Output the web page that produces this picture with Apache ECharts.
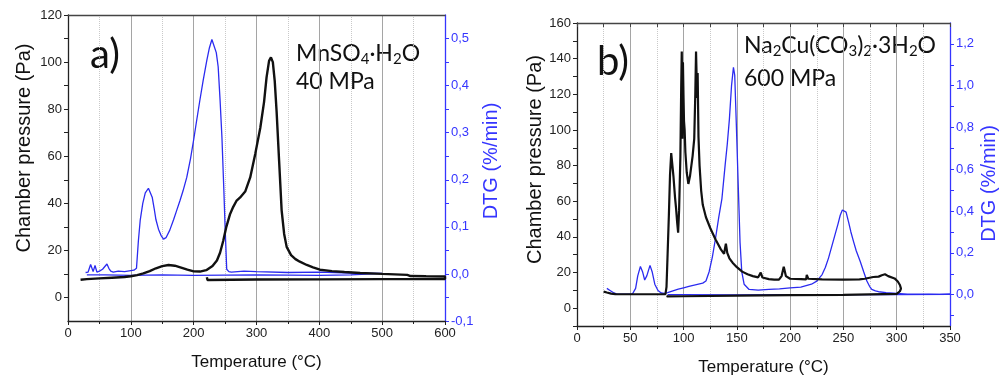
<!DOCTYPE html>
<html>
<head>
<meta charset="utf-8">
<script src="https://cdn.jsdelivr.net/npm/echarts@6/dist/echarts.min.js"></script>
<style>
html,body{margin:0;padding:0;background:#fff;}
#c{width:1000px;height:381px;}
</style>
</head>
<body>
<div id="c"></div>
<script>
// ---------- Panel a: MnSO4·H2O, 40 MPa ----------
const aPressT = [20,30,50,70,90,100,110,120,130,140,150,160,170,180,190,200,210,220,230,237,242,247,252,258,263,268,274,282,290,298,306,312,316,320,323,326,329,332,336,340,344,348,355,362,369,380,390,401,420,440,465,500,540,545,570,600,600,500,400,300,222,221];
const aPress  = [7.5,7.8,8.1,8.4,8.7,9.0,9.5,10.2,11.2,12.4,13.3,13.8,13.5,12.7,11.8,11.1,11.0,11.6,13.4,15.7,19,24,30,35.5,38.5,41,42.5,45,51,61,72,83,93.5,100.5,102,100,92,79,58,37,27,21.5,18,16.3,15.2,13.8,12.8,11.8,11.2,10.8,10.4,10.0,9.6,9.1,9.0,8.9,7.8,7.8,7.7,7.6,7.4,8.6];
const aDtgT = [28,32,36,40,43,46,50,55,58,62,65,68,72,80,90,100,105,109,112,115,119,123,128,131,134,137,140,144,148,152,156,162,168,173,178,183,189,195,200,205,210,215,221,225,229,232,236,239,242,245,248,250,252.6,256,260,280,300,350,400,450,500,500,450,400,300,200,150,100,60,30];
const aDtg  = [0.003,0.004,0.02,0.005,0.018,0.004,0.006,0.01,0.008,0.021,0.012,0.006,0.004,0.006,0.005,0.007,0.008,0.012,0.07,0.115,0.15,0.172,0.182,0.178,0.163,0.14,0.115,0.095,0.082,0.074,0.077,0.093,0.115,0.135,0.155,0.176,0.205,0.245,0.285,0.328,0.37,0.41,0.454,0.48,0.498,0.495,0.47,0.44,0.37,0.29,0.18,0.1,0.01,0.005,0.004,0.006,0.005,0.003,0.004,0.002,0.001,-0.003,-0.002,-0.003,-0.002,-0.003,-0.002,-0.003,-0.002,-0.002];
const aPressLabels = [0,20,40,60,80,100,120];
const aPressTicks  = [0,10,20,30,40,50,60,70,80,90,100,110,120];
const aDtgLabels = [-0.1,0,0.1,0.2,0.3,0.4,0.5];
const aDtgTicks  = [-0.1,-0.05,0,0.05,0.1,0.15,0.2,0.25,0.3,0.35,0.4,0.45,0.5];

// ---------- Panel b: Na2Cu(CO3)2·3H2O, 600 MPa ----------
const bPressT = [25,28,32,36,45,60,75,83,84,85,86.2,87.3,88.4,89.5,90.5,92,93,94,94.9,95.8,97,97.8,98.3,98.6,99.0,99.4,99.9,100.4,101,101.7,103,104.5,106,108.5,110,111,111.7,112.3,112.7,113.2,114,115,116.5,118,121,125,130,135,138,139.7,141,143,146,150,155,160,165,170,171.5,172.4,174,180,185,189.5,192,194,196,200,210,215,215.6,217,230,250,265,270,278,283,286,289,292,298,301,303,304,303,301.5,300,250,200,150,100,85,84];
const bPress  = [9.3,8.8,8.2,7.9,7.8,7.8,7.8,7.9,12,30,52,75,87,86,74,62,55.7,48,42.4,55,85,125,144,128,95,138,120,105,100,87.5,76,69.7,74,85.5,95,120,144,145,118,132,96,80,66,58,51,45,38.5,33,30.5,36.2,31,28,25.5,23,20.5,19,18,17.3,17.5,20,17.2,16.3,16.0,16.0,18,23.2,18,16.5,16.3,16.2,18.6,16.5,16.2,16.0,16.2,16.5,17.5,17.7,18.5,19,18,16.7,15,13,11,9.5,9.0,8.0,7.5,7.3,7.0,6.7,6.6,6.8];
const bDtgT = [28,31,34,37,45,52,55,57,59.5,61.5,63.5,65.5,68.5,70.5,73,76,79,82,85,90,95,100,105,110,115,118,121,124,127,130,133,136,139,141,143,145,146.8,148,149.6,151.5,153,154.6,156.8,161.5,170,180,190,200,210,220,225,230,233,236,239,242,245,247,249,250.8,252.5,254.8,257,259.5,262,265.7,269,272,274.5,276.6,280,283,290,300,310,320,330,340,350,300,250,200,150,100,85];
const bDtg  = [0.03,0.02,0.01,0.004,0.003,0.003,0.03,0.09,0.135,0.11,0.07,0.09,0.14,0.11,0.05,0.02,0.008,0.006,0.01,0.018,0.026,0.033,0.04,0.046,0.052,0.055,0.065,0.11,0.18,0.27,0.37,0.46,0.62,0.72,0.84,1.0,1.088,1.05,0.8,0.49,0.25,0.11,0.05,0.025,0.022,0.025,0.028,0.032,0.036,0.05,0.065,0.096,0.13,0.175,0.23,0.285,0.34,0.38,0.405,0.411,0.395,0.348,0.3,0.254,0.21,0.16,0.11,0.065,0.04,0.025,0.018,0.014,0.01,0.006,0.003,0.002,0.003,0.001,0.002,0.0,0.0,0.0,-0.001,0.0,0.0];
const bPressLabels = [0,20,40,60,80,100,120,140,160];
const bPressTicks  = [-10,0,10,20,30,40,50,60,70,80,90,100,110,120,130,140,150,160];
const bDtgLabels = [0,0.2,0.4,0.6,0.8,1.0,1.2];
const bDtgTicks  = [-0.1,0,0.1,0.2,0.3,0.4,0.5,0.6,0.7,0.8,0.9,1.0,1.1,1.2];

const zip = (xs, ys) => xs.map((x, i) => [x, ys[i]]);
const comma = v => (Math.abs(v) < 1e-9 ? 0 : v).toFixed(1).replace('.', ',');

const BLACK = '#111';
const BLUE_LINE = '#2b2bf0';
const BLUE_AXIS = '#3535ff';
const GRID_SOLID = '#a5a5a5';
const GRID_DOT = '#c9c9c9';
const TICKFONT = 'Liberation Sans';

function bottomX(gridIndex, max, interval) {
  return {
    type: 'value', gridIndex, min: 0, max, interval, position: 'bottom',
    axisLine: {show: true, onZero: false, lineStyle: {color: '#222', width: 1.3}},
    axisTick: {show: true, length: 4, lineStyle: {color: '#222'}},
    minorTick: {show: true, splitNumber: 2, length: 3, lineStyle: {color: '#222'}},
    axisLabel: {color: '#222', fontFamily: TICKFONT, fontSize: 13, margin: 6},
    splitLine: {show: true, lineStyle: {color: GRID_SOLID, width: 1}},
    minorSplitLine: {show: true, lineStyle: {color: GRID_DOT, type: 'dotted', width: 1}},
    name: 'Temperature (°C)', nameLocation: 'middle', nameGap: 33,
    nameTextStyle: {color: '#111', fontFamily: TICKFONT, fontSize: 17}
  };
}
function topX(gridIndex, max, interval, ticks) {
  return {
    type: 'value', gridIndex, min: 0, max, interval, position: 'top',
    axisLine: {show: true, onZero: false, lineStyle: {color: '#444', width: 1.3}},
    axisTick: {show: ticks, inside: true, length: 4, lineStyle: {color: '#444'}},
    minorTick: {show: ticks, splitNumber: 2, length: 4, lineStyle: {color: '#444'}},
    axisLabel: {show: false}, splitLine: {show: false}
  };
}
function leftY(gridIndex, min, max, labels, ticks, gap, pad) {
  return {
    type: 'value', gridIndex, min, max, position: 'left',
    axisLine: {show: true, onZero: false, lineStyle: {color: '#222', width: 1.3}},
    axisTick: {show: true, length: 4, customValues: ticks, lineStyle: {color: '#222'}},
    axisLabel: {color: '#222', fontFamily: TICKFONT, fontSize: 13, margin: 6, customValues: labels},
    splitLine: {show: false},
    name: 'Chamber pressure (Pa)', nameLocation: 'middle', nameRotate: 90, nameGap: gap,
    nameTextStyle: {color: '#111', fontFamily: TICKFONT, fontSize: 20, padding: pad}
  };
}
function rightY(gridIndex, min, max, labels, ticks, gap, pad) {
  return {
    type: 'value', gridIndex, min, max, position: 'right',
    axisLine: {show: true, onZero: false, lineStyle: {color: BLUE_AXIS, width: 1.3}},
    axisTick: {show: true, length: 4, customValues: ticks, lineStyle: {color: BLUE_AXIS}},
    axisLabel: {color: BLUE_AXIS, fontFamily: TICKFONT, fontSize: 13, margin: 6, customValues: labels, formatter: comma},
    splitLine: {show: false},
    name: 'DTG (%/min)', nameLocation: 'middle', nameRotate: 90, nameGap: gap,
    nameTextStyle: {color: BLUE_AXIS, fontFamily: TICKFONT, fontSize: 20, padding: pad}
  };
}

const chart = echarts.init(document.getElementById('c'), null, {renderer: 'canvas'});
const subA = {fontSize: 15, fontFamily: 'Lato', color: '#111', padding: [12, 0, 0, 0]};
const subB = {fontSize: 15, fontFamily: 'Lato', color: '#111', padding: [12, 0, 0, 0]};
chart.setOption({
  backgroundColor: '#fff',
  animation: false,
  grid: [
    {left: 68, top: 15, width: 377, height: 306},
    {left: 577, top: 23, width: 375, height: 306}
  ],
  xAxis: [
    bottomX(0, 600, 100),
    topX(0, 600, 100, false),
    bottomX(1, 350, 50),
    topX(1, 350, 50, true)
  ],
  yAxis: [
    leftY(0, -10, 120, aPressLabels, aPressTicks, 34, [0, 0, 0, 40]),
    rightY(0, -0.1, 0.55, aDtgLabels, aDtgTicks, 36, [0, 0, 0, 14]),
    leftY(1, -10, 160, bPressLabels, bPressTicks, 30, [0, 0, 0, 30]),
    rightY(1, -0.15, 1.3, bDtgLabels, bDtgTicks, 29, [0, 18, 0, 0])
  ],
  series: [
    {type: 'line', xAxisIndex: 0, yAxisIndex: 1, data: zip(aDtgT, aDtg), showSymbol: false,
     lineStyle: {color: BLUE_LINE, width: 1.3}, z: 3},
    {type: 'line', xAxisIndex: 0, yAxisIndex: 0, data: zip(aPressT, aPress), showSymbol: false,
     lineStyle: {color: BLACK, width: 2.4}, z: 4},
    {type: 'line', xAxisIndex: 2, yAxisIndex: 3, data: zip(bDtgT, bDtg), showSymbol: false,
     lineStyle: {color: BLUE_LINE, width: 1.3}, z: 3},
    {type: 'line', xAxisIndex: 2, yAxisIndex: 2, data: zip(bPressT, bPress), showSymbol: false,
     lineStyle: {color: BLACK, width: 2.2}, z: 4}
  ],
  graphic: [
    {type: 'text', left: 90, top: 35, style: {text: 'a)', font: '40px Lato', fill: '#111'}},
    {type: 'text', left: 296, top: 42, style: {text: 'MnSO{s|4}·H{s|2}O', font: '23px Lato', fill: '#111', rich: {s: subA}}},
    {type: 'text', left: 296, top: 70, style: {text: '40 MPa', font: '23px Lato', fill: '#111'}},
    {type: 'text', left: 597, top: 42, style: {text: 'b)', font: '40px Lato', fill: '#111'}},
    {type: 'text', left: 744, top: 34, style: {text: 'Na{s|2}Cu(CO{s|3}){s|2}·3H{s|2}O', font: '23px Lato', fill: '#111', rich: {s: subB}}},
    {type: 'text', left: 744, top: 67, style: {text: '600 MPa', font: '23px Lato', fill: '#111'}}
  ]
});
</script>
</body>
</html>
